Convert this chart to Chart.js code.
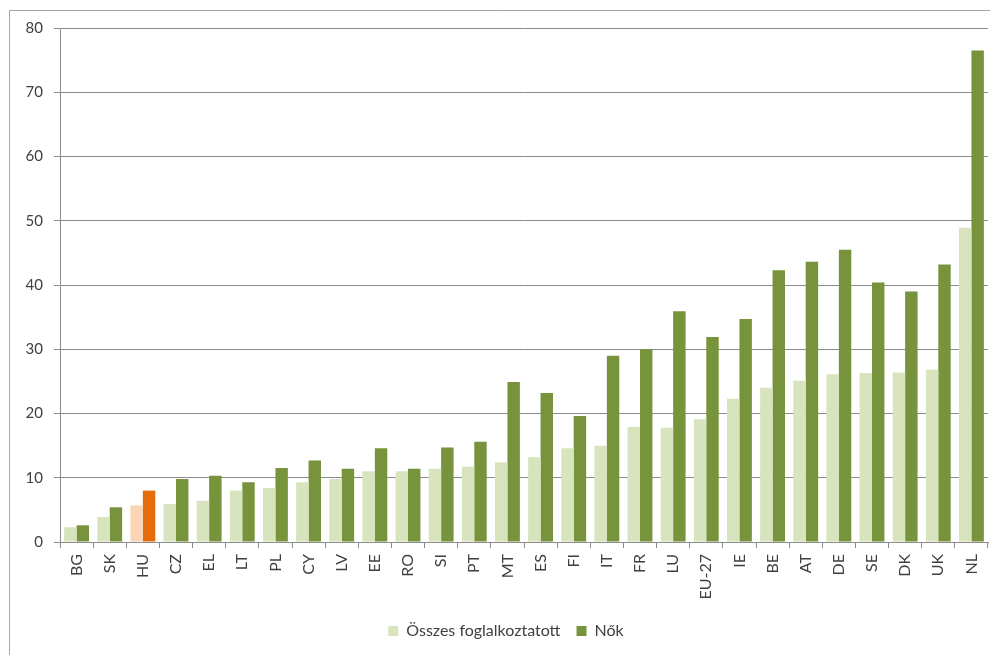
<!DOCTYPE html>
<html>
<head>
<meta charset="utf-8">
<script src="https://cdn.jsdelivr.net/npm/chart.js@4"></script>
<style>
  html, body { margin: 0; padding: 0; background: #ffffff; }
  #wrap { position: relative; width: 990px; height: 655px; }
</style>
</head>
<body>
<div id="wrap"><canvas id="c" width="990" height="655"></canvas></div>
<script>
const categories = ['BG','SK','HU','CZ','EL','LT','PL','CY','LV','EE','RO','SI','PT','MT','ES','FI','IT','FR','LU','EU-27','IE','BE','AT','DE','SE','DK','UK','NL'];
const seriesNames = ['Összes foglalkoztatott', 'Nők'];
const osszes = [2.3, 3.9, 5.7, 5.9, 6.4, 8.0, 8.4, 9.3, 9.8, 11.0, 11.0, 11.4, 11.7, 12.4, 13.2, 14.6, 15.0, 17.9, 17.8, 19.1, 22.3, 24.0, 25.1, 26.1, 26.3, 26.4, 26.8, 48.9];
const nok = [2.6, 5.4, 8.0, 9.8, 10.3, 9.3, 11.5, 12.7, 11.4, 14.6, 11.4, 14.7, 15.6, 24.9, 23.2, 19.6, 29.0, 30.0, 35.9, 31.9, 34.7, 42.3, 43.6, 45.5, 40.4, 39.0, 43.2, 76.5];
const yTicks = [0, 10, 20, 30, 40, 50, 60, 70, 80];
const highlight = 'HU';

const lightGreen = '#d7e4bd', darkGreen = '#77933c';
const lightOrange = '#fcd5b5', darkOrange = '#e46c0a';
const textColor = '#404040', gridColor = '#8c8c8c';
const FONT = 'Lato, "Liberation Sans", sans-serif';

const frame = {
  id: 'frame',
  beforeDraw(chart) {
    const ctx = chart.ctx;
    ctx.save();
    ctx.strokeStyle = '#a6a6a6';
    ctx.lineWidth = 1;
    ctx.beginPath();
    ctx.moveTo(9.5, 700);
    ctx.lineTo(9.5, 10.5);
    ctx.lineTo(995, 10.5);
    ctx.stroke();
    ctx.restore();
  }
};

new Chart(document.getElementById('c'), {
  type: 'bar',
  data: {
    labels: categories,
    datasets: [
      {
        label: seriesNames[0],
        data: osszes,
        backgroundColor: categories.map(c => c === highlight ? lightOrange : lightGreen),
        categoryPercentage: 0.75,
        barPercentage: 1.0,
        borderWidth: 0
      },
      {
        label: seriesNames[1],
        data: nok,
        backgroundColor: categories.map(c => c === highlight ? darkOrange : darkGreen),
        categoryPercentage: 0.75,
        barPercentage: 1.0,
        borderWidth: 0
      }
    ]
  },
  options: {
    responsive: false,
    animation: false,
    devicePixelRatio: 1,
    layout: { padding: { top: 28, right: 2, bottom: 6, left: 24 } },
    plugins: {
      legend: {
        position: 'bottom',
        labels: {
          color: textColor,
          font: { family: FONT, size: 16 },
          boxWidth: 10,
          boxHeight: 10,
          padding: 16,
          generateLabels(chart) {
            return chart.data.datasets.map((ds, i) => ({
              text: ds.label,
              fillStyle: i === 0 ? lightGreen : darkGreen,
              strokeStyle: i === 0 ? lightGreen : darkGreen,
              lineWidth: 0,
              hidden: false,
              datasetIndex: i,
              fontColor: textColor
            }));
          }
        }
      },
      tooltip: { enabled: false }
    },
    scales: {
      x: {
        offset: true,
        grid: {
          offset: true,
          drawOnChartArea: false,
          drawTicks: true,
          tickLength: 6,
          color: gridColor
        },
        border: { display: true, color: gridColor },
        ticks: {
          color: textColor,
          font: { family: FONT, size: 16 },
          minRotation: 90,
          maxRotation: 90,
          padding: 6,
          autoSkip: false
        },
        afterFit(s) { s.height = 65; s.paddingRight = 0; s.paddingLeft = 0; }
      },
      y: {
        min: 0,
        max: 80,
        afterBuildTicks(s) { s.ticks = yTicks.map(v => ({ value: v })); },
        grid: {
          color: gridColor,
          tickLength: 6,
          drawTicks: true
        },
        border: { display: true, color: gridColor },
        ticks: {
          color: textColor,
          font: { family: FONT, size: 15 },
          padding: 11
        },
        afterFit(s) { s.width = 36; }
      }
    }
  },
  plugins: [frame]
});
</script>
</body>
</html>
